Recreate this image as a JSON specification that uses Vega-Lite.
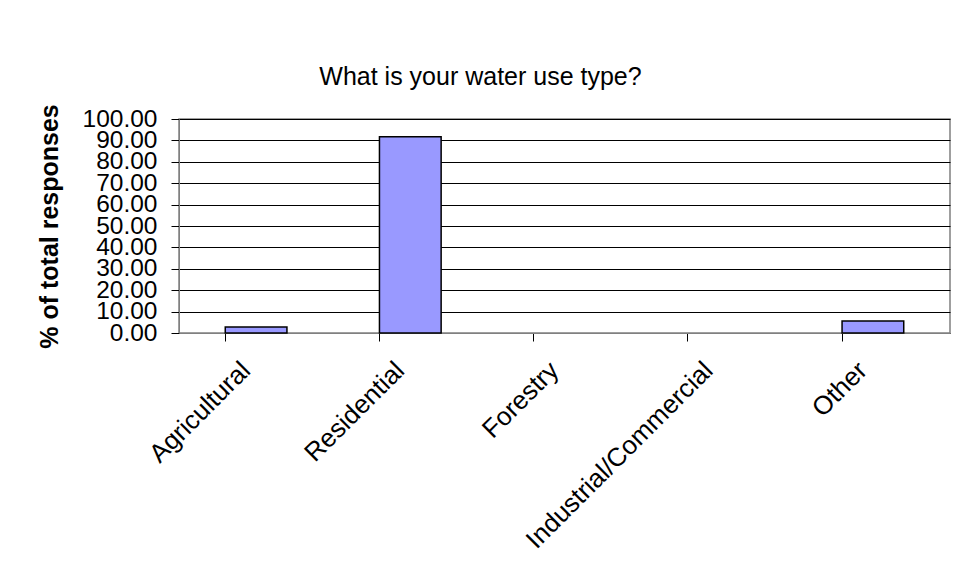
{
  "$schema": "https://vega.github.io/schema/vega-lite/v6.json",
  "autosize": "none",
  "width": 771,
  "height": 214,
  "padding": {"left": 179, "top": 119, "right": 5, "bottom": 242},
  "background": "white",
  "title": {
    "text": "What is your water use type?",
    "font": "Liberation Sans",
    "fontSize": 25,
    "fontWeight": "normal",
    "color": "black",
    "anchor": "middle",
    "frame": "group",
    "dx": -84,
    "offset": 14
  },
  "data": {
    "values": [
      {"type": "Agricultural", "pct": 2.78},
      {"type": "Residential", "pct": 91.67},
      {"type": "Forestry", "pct": 0},
      {"type": "Industrial/Commercial", "pct": 0},
      {"type": "Other", "pct": 5.56}
    ]
  },
  "mark": {"type": "bar", "fill": "#9999FF", "stroke": "black", "strokeWidth": 1.5},
  "encoding": {
    "x": {
      "field": "type",
      "type": "nominal",
      "sort": null,
      "scale": {"paddingInner": 0.6, "paddingOuter": 0.3},
      "axis": {
        "title": null,
        "bandPosition": 0,
        "labelAngle": -45,
        "labelAlign": "right",
        "labelBaseline": "middle",
        "labelPadding": 25,
        "labelOffset": -10,
        "labelFont": "Liberation Sans",
        "labelFontSize": 26,
        "labelColor": "black",
        "labelOverlap": false,
        "tickColor": "black",
        "tickSize": 8,
        "domainColor": "#808080",
        "labelLimit": 400
      }
    },
    "y": {
      "field": "pct",
      "type": "quantitative",
      "scale": {"domain": [0, 100], "nice": false},
      "axis": {
        "title": "% of total responses",
        "titleFont": "Liberation Sans",
        "titleFontSize": 25,
        "titleFontWeight": "bold",
        "titleColor": "black",
        "titlePadding": 20,
        "values": [0, 10, 20, 30, 40, 50, 60, 70, 80, 90, 100],
        "format": ".2f",
        "labelFont": "Liberation Sans",
        "labelFontSize": 24.5,
        "labelColor": "black",
        "labelOverlap": false,
        "labelPadding": 14,
        "tickSize": 8,
        "tickColor": "black",
        "domainColor": "#808080",
        "grid": true,
        "gridColor": "black",
        "gridWidth": 1
      }
    },
    "strokeOpacity": {
      "condition": {"test": "datum.pct == 0", "value": 0},
      "value": 1
    }
  },
  "config": {
    "view": {"stroke": "#808080", "strokeWidth": 1.5}
  }
}
